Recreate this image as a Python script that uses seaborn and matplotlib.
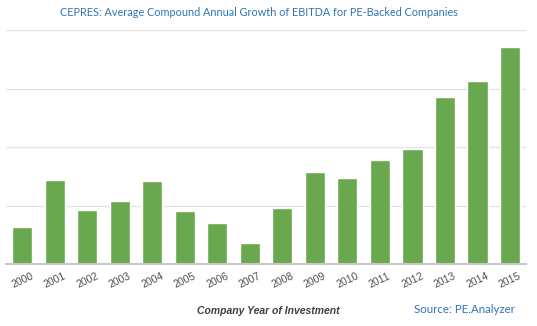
import matplotlib
matplotlib.use("Agg")
import matplotlib.pyplot as plt
import seaborn as sns
import pandas as pd

years = ["2000", "2001", "2002", "2003", "2004", "2005", "2006", "2007",
         "2008", "2009", "2010", "2011", "2012", "2013", "2014", "2015"]
growth = [0.63, 1.44, 0.92, 1.08, 1.42, 0.91, 0.70, 0.36,
          0.96, 1.57, 1.47, 1.78, 1.97, 2.85, 3.13, 3.71]

df = pd.DataFrame({"year": years, "growth": growth})

sns.set_style("white")
plt.rcParams['font.family'] = ['Liberation Sans', 'DejaVu Sans']

fig = plt.figure(figsize=(5.37, 3.26), dpi=100)
ax = fig.add_axes([0.011, 0.19, 0.969, 0.718])

sns.barplot(data=df, x="year", y="growth", color="#6aa84f", saturation=1,
            width=0.62, ax=ax, zorder=3)

ax.set_ylim(0, 4)
ax.set_xlim(-0.5, 15.5)
ax.set_yticks([0, 1, 2, 3, 4])
ax.set_yticklabels([])
ax.tick_params(axis='y', length=0)
ax.grid(axis='y', color='#e3e3e3', linewidth=0.9, zorder=0)
for s in ["top", "right", "left"]:
    ax.spines[s].set_visible(False)
ax.spines["bottom"].set_color("#c8c8c8")
ax.spines["bottom"].set_linewidth(1.5)
ax.spines["bottom"].set_zorder(4)

ax.tick_params(axis='x', length=0, pad=5, labelsize=7.5, labelcolor='#505050')
for lbl in ax.get_xticklabels():
    lbl.set_rotation(25)
    lbl.set_ha('center')
ax.set_xlabel("")
ax.set_ylabel("")

fig.text(0.483, 0.963, "CEPRES: Average Compound Annual Growth of EBITDA for PE-Backed Companies",
         ha='center', va='center', fontsize=7.8, color='#2e75b6',
         family=['Lato', 'DejaVu Sans'])
fig.text(0.5, 0.047, "Company Year of Investment", ha='center', va='center',
         fontsize=7.5, style='italic', weight='bold', color='#404040')
fig.text(0.958, 0.05, "Source: PE.Analyzer", ha='right', va='center',
         fontsize=8.3, color='#2e75b6', family=['Lato', 'DejaVu Sans'])

fig.savefig("out.png", dpi=100, facecolor='white')
